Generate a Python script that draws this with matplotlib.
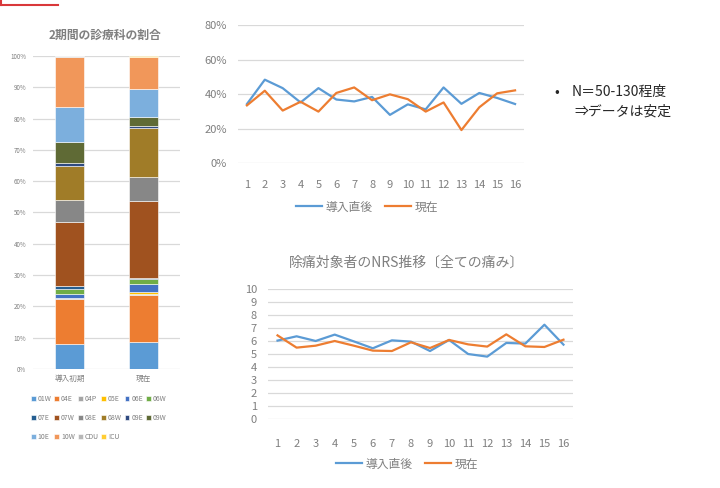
import matplotlib
matplotlib.use("Agg")
import matplotlib.pyplot as plt
import numpy as np
from matplotlib.lines import Line2D

plt.rcParams["font.family"] = ["Noto Sans CJK JP", "DejaVu Sans"]

GRAY = "#7f7f7f"
GRID = "#d9d9d9"

# --- left: stacked 100% bars ---
periods = ["導入初期", "現在"]
depts = ["01W", "04E", "04P", "05E", "06E", "06W", "07E", "07W",
         "08E", "08W", "09E", "09W", "10E", "10W", "CDU", "ICU"]
share_early = [7.9, 14.6, 0.3, 0.0, 1.1, 1.5, 1.1, 20.5,
               6.9, 11.0, 0.8, 6.8, 11.3, 16.0, 0.2, 0.0]
share_now = [8.6, 15.0, 0.2, 0.7, 2.7, 1.6, 0.4, 24.4,
             7.8, 15.5, 0.8, 2.8, 8.8, 10.5, 0.0, 0.2]
dept_colors = ["#5b9bd5", "#ed7d31", "#a5a5a5", "#ffc000", "#4472c4", "#70ad47",
               "#255e91", "#a0521f", "#878787", "#a07c28", "#2f4a80", "#5f6a35",
               "#7cafdd", "#f1975a", "#b7b7b7", "#ffcd33"]

# --- top right: ratio per month ---
months = list(range(1, 17))
ratio_after = [34.2, 48.3, 43.4, 35.1, 43.4, 36.8, 35.7, 38.3,
               27.9, 34.0, 31.1, 43.8, 34.3, 40.6, 37.7, 34.2]
ratio_now = [33.4, 41.9, 30.4, 35.5, 29.8, 40.6, 43.8, 36.4,
             39.8, 37.0, 29.8, 35.1, 19.1, 32.3, 40.4, 42.1]

# --- bottom right: NRS ---
nrs_after = [6.04, 6.37, 6.01, 6.50, 5.98, 5.45, 6.06, 5.96,
             5.24, 6.09, 5.01, 4.81, 5.86, 5.81, 7.26, 5.73]
nrs_now = [6.44, 5.50, 5.65, 6.01, 5.65, 5.27, 5.24, 5.91,
           5.47, 6.09, 5.75, 5.58, 6.52, 5.60, 5.55, 6.11]

series_names = ["導入直後", "現在"]
line_colors = ["#5b9bd5", "#ed7d31"]

fig = plt.figure(figsize=(7.2, 4.88), dpi=100)


def clean(ax):
    for s in ax.spines.values():
        s.set_visible(False)
    ax.grid(axis="y", color=GRID, linewidth=0.9)
    ax.set_axisbelow(True)
    ax.tick_params(length=0, colors=GRAY)


# left chart
ax1 = fig.add_axes([0.0458, 0.2439, 0.2042, 0.6414])
clean(ax1)
x = np.arange(len(periods))
bottom = np.zeros(2)
bar_handles = []
for i, name in enumerate(depts):
    vals = np.array([share_early[i], share_now[i]])
    h = ax1.bar(x, vals, 0.4, bottom=bottom, color=dept_colors[i],
                edgecolor="white", linewidth=0.4, label=name)
    bar_handles.append(h)
    bottom += vals
ax1.set_xlim(-0.5, 1.5)
ax1.set_ylim(0, 100)
ax1.set_yticks(np.arange(0, 101, 10))
ax1.set_yticklabels([f"{v}%" for v in range(0, 101, 10)], fontsize=4.5)
ax1.set_xticks(x)
ax1.set_xticklabels(periods, fontsize=5.5)
ax1.tick_params(axis="y", pad=5)
ax1.tick_params(axis="x", pad=4)
fig.text(0.146, 1 - 35 / 488, "2期間の診療科の割合", ha="center", va="center",
         fontsize=8.5, color=GRAY, fontweight="bold")

# legend in row-major order (3 rows x 6 cols)
order = [0, 6, 12, 1, 7, 13, 2, 8, 14, 3, 9, 15, 4, 10, 5, 11]
fig.legend([bar_handles[k] for k in order], [depts[k] for k in order],
           loc="center", bbox_to_anchor=(0.137, 1 - 418 / 488), ncol=6,
           fontsize=5, frameon=False, handlelength=0.7, handleheight=0.7,
           handletextpad=0.25, columnspacing=0.4, labelspacing=1.6,
           labelcolor=GRAY)

# top right chart
ax2 = fig.add_axes([238 / 720, 1 - 163 / 488, 286 / 720, 138 / 488])
clean(ax2)
ax2.plot(months, ratio_after, color=line_colors[0], linewidth=1.6)
ax2.plot(months, ratio_now, color=line_colors[1], linewidth=1.6)
ax2.set_xlim(0.5, 16.5)
ax2.set_ylim(0, 80)
ax2.set_yticks(range(0, 81, 20))
ax2.set_yticklabels([f"{v}%" for v in range(0, 81, 20)], fontsize=8)
ax2.set_xticks(months)
ax2.tick_params(axis="x", labelsize=8, pad=12)
ax2.tick_params(axis="y", pad=8)
handles = [Line2D([], [], color=c, linewidth=1.6) for c in line_colors]
fig.legend(handles, series_names, loc="center",
           bbox_to_anchor=(367 / 720, 1 - 207 / 488), ncol=2, fontsize=8.5,
           frameon=False, labelcolor=GRAY, handlelength=2.2,
           handletextpad=0.3, columnspacing=1.0)

# bottom right chart
ax3 = fig.add_axes([268 / 720, 1 - 419.3 / 488, 305 / 720, 130.3 / 488])
clean(ax3)
ax3.plot(months, nrs_after, color=line_colors[0], linewidth=1.6)
ax3.plot(months, nrs_now, color=line_colors[1], linewidth=1.6)
ax3.set_xlim(0.5, 16.5)
ax3.set_ylim(0, 10)
ax3.set_yticks(range(0, 11))
ax3.set_xticks(months)
ax3.tick_params(axis="x", labelsize=8, pad=14)
ax3.tick_params(axis="y", labelsize=8, pad=8)
fig.text(407 / 720, 1 - 263 / 488, "除痛対象者のNRS推移〔全ての痛み〕",
         ha="center", va="center", fontsize=10, color=GRAY)
fig.legend(handles, series_names, loc="center",
           bbox_to_anchor=(407 / 720, 1 - 464 / 488), ncol=2, fontsize=8.5,
           frameon=False, labelcolor=GRAY, handlelength=2.2,
           handletextpad=0.3, columnspacing=1.0)

# note on the right
fig.text(557 / 720, 1 - 92 / 488, "•", ha="center", va="center",
         fontsize=10, color="#262626")
fig.text(572 / 720, 1 - 92 / 488, "N＝50-130程度", ha="left", va="center",
         fontsize=10, color="#262626")
fig.text(574 / 720, 1 - 112 / 488, "⇒データは安定", ha="left", va="center",
         fontsize=10, color="#262626")

# corner of the red frame at top-left
fig.add_artist(Line2D([0, 58 / 720], [1 - 4.5 / 488, 1 - 4.5 / 488],
                      color="#d9383a", linewidth=1.5))
fig.add_artist(Line2D([1 / 720, 1 / 720], [1, 1 - 4.5 / 488],
                      color="#d9383a", linewidth=1.5))

fig.savefig("out.png", dpi=100)
